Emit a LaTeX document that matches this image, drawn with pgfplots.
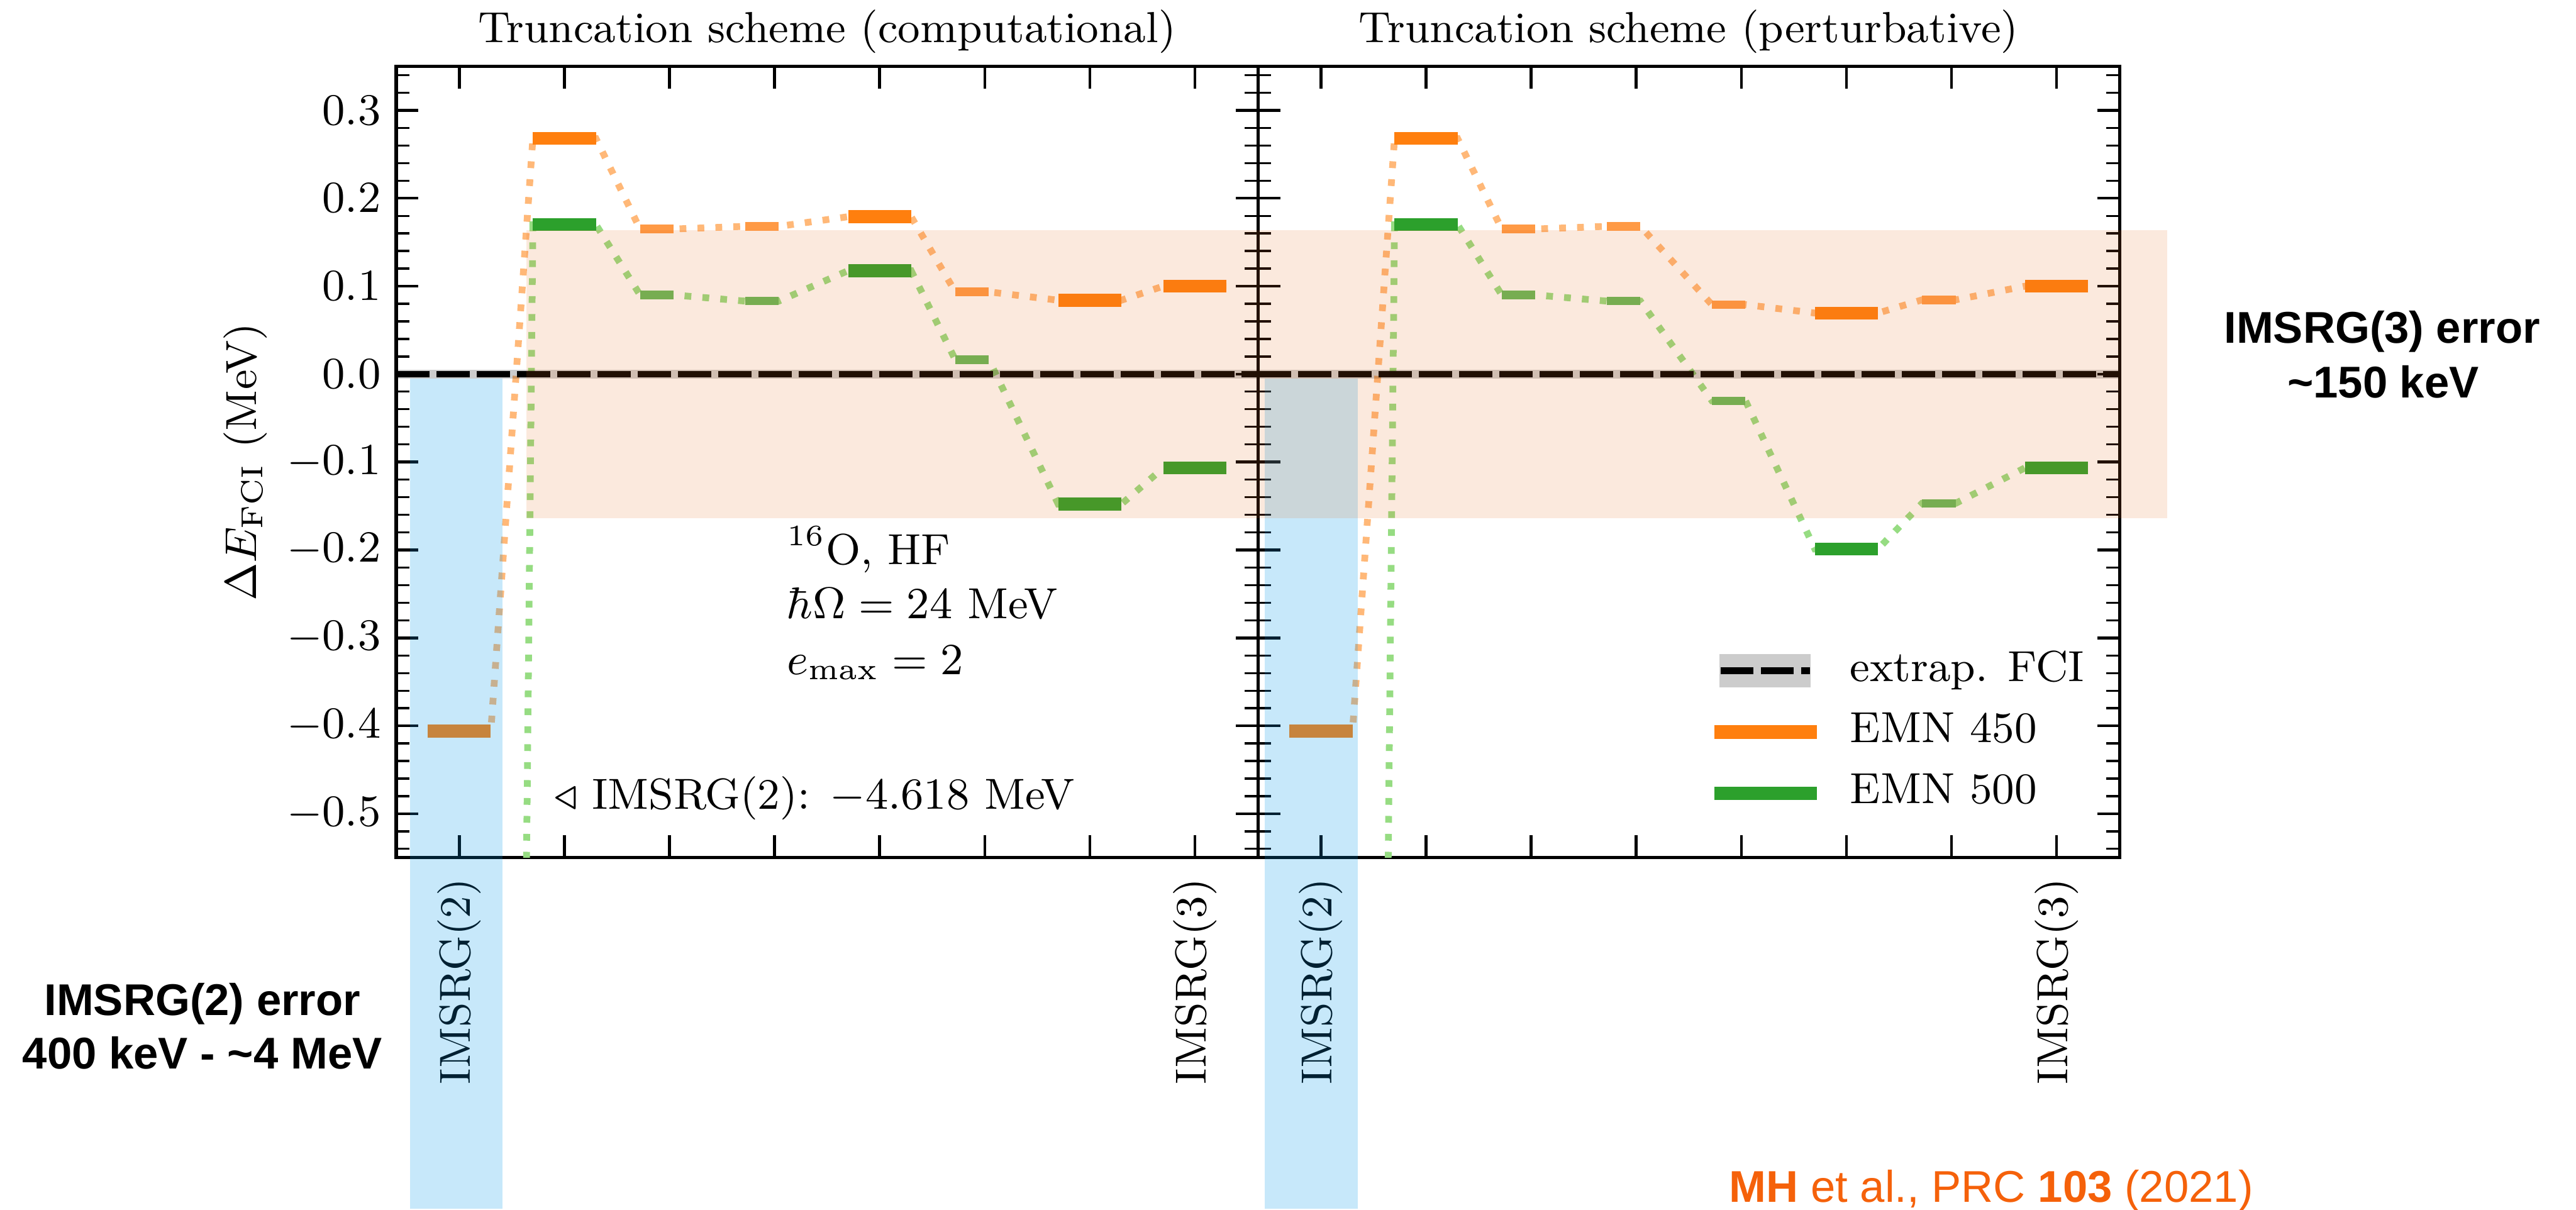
\documentclass[border=0pt]{standalone}
\usepackage{fontspec}
\usepackage{pgfplots}
\pgfplotsset{compat=1.18}
\newfontfamily\hfont{Liberation Sans}
\definecolor{c450}{RGB}{255,127,14}
\definecolor{c450l}{RGB}{255,154,69}
\definecolor{c450d}{RGB}{255,184,120}
\definecolor{c500}{RGB}{44,160,44}
\definecolor{c500l}{RGB}{100,185,90}
\definecolor{c500d}{RGB}{150,220,130}
\definecolor{pinkband}{RGB}{230,110,30}
\definecolor{blueband}{RGB}{0,150,230}
\definecolor{refcol}{RGB}{245,97,10}
\pgfplotsset{
  panel/.style={
    scale only axis, width=6.132cm, height=5.632cm, anchor=south west,
    xmin=-0.6, xmax=7.6, ymin=-0.55, ymax=0.35,
    xtick={0,1,2,3,4,5,6,7},
    ytick={-0.5,-0.4,-0.3,-0.2,-0.1,0,0.1,0.2,0.3},
    minor ytick={-0.54,-0.52,...,0.34},
    tick align=inside, xtick pos=both, ytick pos=both,
    major tick length=4.5pt, minor tick length=2.7pt,
    axis line style={line width=0.68pt, black},
    major tick style={line width=0.57pt, black},
    minor tick style={line width=0.42pt, black},
    xticklabel style={rotate=90, anchor=east},
    xticklabel shift=1.1pt,
    yticklabel style={/pgf/number format/.cd, fixed, fixed zerofill, precision=1},
    every axis title/.style={at={(axis description cs:0.5,1)}, anchor=base, yshift=4.8pt, inner sep=0pt},
  },
  dotline/.style={line width=1.37pt, dash pattern=on 1.37pt off 2.26pt, forget plot},
  fci/.style={black, line width=1.25pt, dash pattern=on 6.7pt off 1.45pt, forget plot},
}
\begin{document}
\fontsize{8.8}{10.6}\selectfont
\begin{tikzpicture}
\useasboundingbox (0,0) rectangle (18.332,8.608);

% ---------------- left panel ----------------
\begin{axis}[panel, at={(2.82cm,2.504cm)},
  title={Truncation scheme (computational)},
  xticklabels={IMSRG(2),,,,,,,IMSRG(3)},
  ylabel={$\Delta E_{\mathrm{FCI}}$ (MeV)},
  ylabel style={at={(axis description cs:-0.175,0.5)}, anchor=center},
]
\addplot[c450d, dotline] coordinates {(-0.3,-0.406)(0.3,-0.406)(0.7,0.268)(1.3,0.268)(1.72,0.165)(2.04,0.165)(2.72,0.168)(3.04,0.168)(3.7,0.179)(4.3,0.179)(4.72,0.0935)(5.04,0.0935)(5.7,0.084)(6.3,0.084)(6.7,0.100)(7.3,0.100)};
\addplot[c500d, dotline] coordinates {(-0.3,-4.618)(0.3,-4.618)(0.7,0.170)(1.3,0.170)(1.72,0.090)(2.04,0.090)(2.72,0.083)(3.04,0.083)(3.7,0.1176)(4.3,0.1176)(4.72,0.0163)(5.04,0.0163)(5.7,-0.148)(6.3,-0.148)(6.7,-0.1066)(7.3,-0.1066)};
\addplot[draw=none, mark=none, forget plot, error bars/.cd, x dir=both, x fixed=0.3, error mark=none, error bar style={line width=2.62pt, c450}]
  coordinates {(0,-0.406)(1,0.268)(4,0.179)(6,0.084)(7,0.100)};
\addplot[draw=none, mark=none, forget plot, error bars/.cd, x dir=both, x fixed=0.16, error mark=none, error bar style={line width=1.7pt, c450l}]
  coordinates {(1.88,0.165)(2.88,0.168)(4.88,0.0935)};
\addplot[draw=none, mark=none, forget plot, error bars/.cd, x dir=both, x fixed=0.3, error mark=none, error bar style={line width=2.62pt, c500}]
  coordinates {(0,-4.618)(1,0.170)(4,0.1176)(6,-0.148)(7,-0.1066)};
\addplot[draw=none, mark=none, forget plot, error bars/.cd, x dir=both, x fixed=0.16, error mark=none, error bar style={line width=1.7pt, c500l}]
  coordinates {(1.88,0.090)(2.88,0.083)(4.88,0.0163)};
\fill[black, opacity=0.2] (axis cs:-0.6,-0.0048) rectangle (axis cs:7.6,0.0048);
\addplot[fci] coordinates {(-0.6,0)(7.6,0)};
\node[anchor=base west, inner sep=0pt] at (axis cs:3.11,-0.2165) {$^{16}$O, HF};
\node[anchor=base west, inner sep=0pt] at (axis cs:3.11,-0.278) {$\hbar\Omega = 24$ MeV};
\node[anchor=base west, inner sep=0pt] at (axis cs:3.11,-0.342) {$e_{\max} = 2$};
\node[anchor=base west, inner sep=0pt] at (axis cs:0.893,-0.495) {$\triangleleft$ IMSRG(2): $-4.618$ MeV};
\coordinate (LB1) at (axis cs:-0.47,-0.005);
\coordinate (LB2) at (axis cs:0.41,-0.949);
\end{axis}

% ---------------- right panel ----------------
\begin{axis}[panel, at={(8.952cm,2.504cm)},
  title={Truncation scheme (perturbative)},
  xticklabels={IMSRG(2),,,,,,,IMSRG(3)},
  yticklabels={},
  legend cell align=left,
  legend style={at={(axis description cs:0.5219,0.2617)}, anchor=north west, draw=none, fill=none,
    inner sep=0pt, outer sep=0pt, row sep=4.2pt,
    nodes={inner sep=0pt, text height=6.2pt, text depth=2pt},
    /tikz/every odd column/.append style={column sep=0.19cm}},
]
\addplot[c450d, dotline] coordinates {(-0.3,-0.406)(0.3,-0.406)(0.7,0.268)(1.3,0.268)(1.72,0.165)(2.04,0.165)(2.72,0.168)(3.04,0.168)(3.72,0.079)(4.04,0.079)(4.7,0.0694)(5.3,0.0694)(5.72,0.0844)(6.04,0.0844)(6.7,0.100)(7.3,0.100)};
\addplot[c500d, dotline] coordinates {(-0.3,-4.618)(0.3,-4.618)(0.7,0.170)(1.3,0.170)(1.72,0.090)(2.04,0.090)(2.72,0.083)(3.04,0.083)(3.72,-0.0303)(4.04,-0.0303)(4.7,-0.199)(5.3,-0.199)(5.72,-0.147)(6.04,-0.147)(6.7,-0.1066)(7.3,-0.1066)};
\addplot[draw=none, mark=none, forget plot, error bars/.cd, x dir=both, x fixed=0.3, error mark=none, error bar style={line width=2.62pt, c450}]
  coordinates {(0,-0.406)(1,0.268)(5,0.0694)(7,0.100)};
\addplot[draw=none, mark=none, forget plot, error bars/.cd, x dir=both, x fixed=0.16, error mark=none, error bar style={line width=1.7pt, c450l}]
  coordinates {(1.88,0.165)(2.88,0.168)(3.88,0.079)(5.88,0.0844)};
\addplot[draw=none, mark=none, forget plot, error bars/.cd, x dir=both, x fixed=0.3, error mark=none, error bar style={line width=2.62pt, c500}]
  coordinates {(0,-4.618)(1,0.170)(5,-0.199)(7,-0.1066)};
\addplot[draw=none, mark=none, forget plot, error bars/.cd, x dir=both, x fixed=0.16, error mark=none, error bar style={line width=1.7pt, c500l}]
  coordinates {(1.88,0.090)(2.88,0.083)(3.88,-0.0303)(5.88,-0.147)};
\fill[black, opacity=0.2] (axis cs:-0.6,-0.0048) rectangle (axis cs:7.6,0.0048);
\addplot[fci] coordinates {(-0.6,0)(7.6,0)};
\addlegendimage{legend image code/.code={\fill[black!20] (0.044cm,-0.112cm) rectangle (0.68cm,0.112cm); \draw[black, line width=1.45pt, dash pattern=on 6.7pt off 1.45pt] (0.044cm,0cm) -- (0.68cm,0cm);}}
\addlegendentry{extrap. FCI}
\addlegendimage{legend image code/.code={\draw[c450, line width=2.73pt] (0cm,0cm) -- (0.728cm,0cm);}}
\addlegendentry{EMN 450}
\addlegendimage{legend image code/.code={\draw[c500, line width=2.73pt] (0cm,0cm) -- (0.728cm,0cm);}}
\addlegendentry{EMN 500}
\coordinate (RB1) at (axis cs:-0.538,-0.005);
\coordinate (RB2) at (axis cs:0.35,-0.949);
\coordinate (P1) at (axis cs:-7.559,0.164);
\coordinate (P2) at (axis cs:8.055,-0.164);
\end{axis}

\fill[blueband, opacity=0.22] (LB1) rectangle (LB2);
\fill[blueband, opacity=0.22] (RB1) rectangle (RB2);
\fill[pinkband, opacity=0.15] (P1) rectangle (P2);

\node[anchor=base, inner sep=0pt, font=\hfont\fontsize{9}{10}\selectfont\bfseries] at (1.44,1.384) {IMSRG(2) error};
\node[anchor=base, inner sep=0pt, font=\hfont\fontsize{9}{10}\selectfont\bfseries] at (1.44,1.004) {400 keV - \textasciitilde4 MeV};
\node[anchor=base, inner sep=0pt, font=\hfont\fontsize{9}{10}\selectfont\bfseries] at (16.952,6.168) {IMSRG(3) error};
\node[anchor=base, inner sep=0pt, font=\hfont\fontsize{9}{10}\selectfont\bfseries] at (16.96,5.776) {\textasciitilde150 keV};
\node[anchor=base west, inner sep=0pt, font=\hfont\fontsize{9}{10}\selectfont, text=refcol] at (12.30,0.052) {\textbf{MH} et al., PRC \textbf{103} (2021)};
\end{tikzpicture}
\end{document}
